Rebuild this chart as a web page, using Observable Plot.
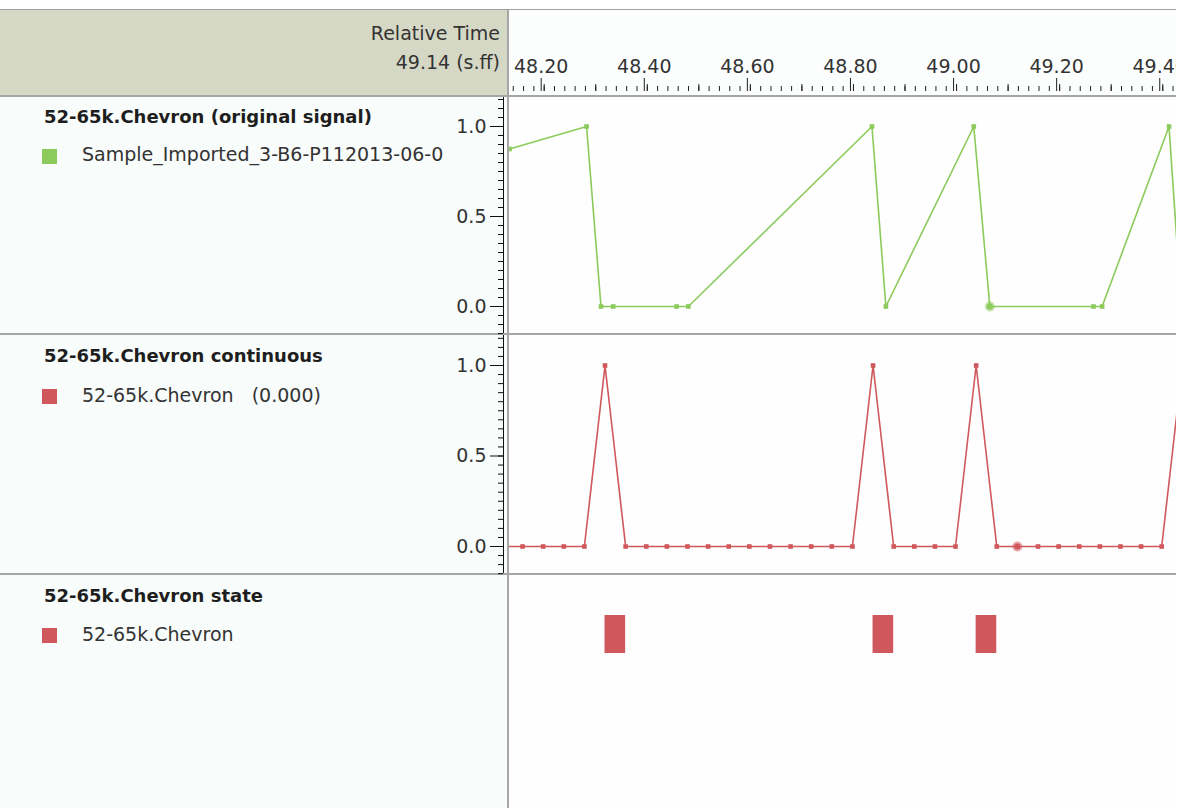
<!DOCTYPE html>
<html>
<head>
<meta charset="utf-8">
<script src="https://cdn.jsdelivr.net/npm/d3@7"></script>
<script src="https://cdn.jsdelivr.net/npm/@observablehq/plot@0.6"></script>
<style>
  html, body { margin: 0; padding: 0; background: #ffffff; }
  body { width: 1186px; height: 808px; position: relative; overflow: hidden; font-family: "DejaVu Sans", sans-serif; }
  .abs { position: absolute; }
  .title { font-weight: bold; font-size: 18px; line-height: 22px; color: #1e1e1e; white-space: pre; }
  .leg { font-size: 19px; line-height: 23px; color: #333; white-space: pre; }
  .hdr { font-size: 19px; line-height: 23px; color: #333; white-space: pre; text-align: right; }
</style>
</head>
<body>
<script>
// ---------- data ----------
const xDomain = [48.1327, 49.4267];          // visible time window (s)
const majorTicks = [48.2, 48.4, 48.6, 48.8, 49.0, 49.2, 49.4];
const yMajorTicks = [0, 0.5, 1];

// original signal (green)
const greenT = [48.1327, 48.2822, 48.3102, 48.3338, 48.4568, 48.4797, 48.8359, 48.8629, 49.0334, 49.0646, 49.2656, 49.2824, 49.4122, 49.4360];
const greenV = [0.875, 1, 0, 0, 0, 0, 1, 0, 1, 0, 0, 0, 1, 0];
const greenCursor = [{t: 49.0646, v: 0}];

// continuous (red)
const redT = [48.118, 48.158, 48.198, 48.238, 48.278, 48.318, 48.358, 48.398, 48.438, 48.478, 48.518, 48.558, 48.598, 48.638, 48.678, 48.718, 48.758, 48.798, 48.838, 48.878, 48.918, 48.958, 48.998, 49.038, 49.078, 49.118, 49.158, 49.198, 49.238, 49.278, 49.318, 49.358, 49.398, 49.438];
const redV = [0, 0, 0, 0, 0, 1, 0, 0, 0, 0, 0, 0, 0, 0, 0, 0, 0, 0, 1, 0, 0, 0, 0, 1, 0, 0, 0, 0, 0, 0, 0, 0, 0, 1];
const redCursor = [{t: 49.118, v: 0}];

// state (red bars)
const stateStart = [48.318, 48.838, 49.038];
const stateEnd   = [48.358, 48.878, 49.078];

const panelTitles = ["52-65k.Chevron (original signal)", "52-65k.Chevron continuous", "52-65k.Chevron state"];
const legendLabels = ["Sample_Imported_3-B6-P112013-06-0", "52-65k.Chevron   (0.000)", "52-65k.Chevron"];
const headerLabels = ["Relative Time", "49.14 (s.ff)"];

const GREEN = "#8cca5b";
const RED = "#d0585c";

// ---------- tables ----------
const green = greenT.map((t, i) => ({t, v: greenV[i]}));
const red = redT.map((t, i) => ({t, v: redV[i]}));
const states = stateStart.map((s, i) => ({s, e: stateEnd[i]}));

const inDomain = d => d >= xDomain[0] && d <= xDomain[1];
const xMinor = d3.range(48.14, 49.43, 0.02).map(d => +d.toFixed(2)).filter(inDomain);
const xMid = d3.range(48.1, 49.5, 0.1).map(d => +d.toFixed(1)).filter(inDomain);
const yMinor = d3.range(-0.15, 1.2, 0.05).map(d => +d.toFixed(2));

const W = 1176;
const xScale = {domain: xDomain, range: [509, W], axis: null};
const baseStyle = {fontFamily: "DejaVu Sans, sans-serif", fontSize: "19px", background: "transparent", color: "#333", overflow: "visible"};

// ---------- layout helpers ----------
function box(x, y, w, h, bg) {
  const d = document.createElement("div");
  d.className = "abs";
  Object.assign(d.style, {left: x + "px", top: y + "px", width: w + "px", height: h + "px", background: bg});
  document.body.appendChild(d);
  return d;
}
function text(cls, str, x, y, w) {
  const d = document.createElement("div");
  d.className = "abs " + cls;
  d.textContent = str;
  d.style.left = x + "px";
  d.style.top = y + "px";
  if (w) d.style.width = w + "px";
  document.body.appendChild(d);
  return d;
}
function place(svg, y) {
  svg.style.position = "absolute";
  svg.style.left = "0px";
  svg.style.top = y + "px";
  document.body.appendChild(svg);
}

// backgrounds
box(0, 10, 507, 85, "#d6d8c6");          // header left
box(509, 10, W - 509, 85, "#fcfefe");    // header right
box(0, 97, 507, 711, "#f8fcfa");         // left legend column
box(509, 97, W - 509, 711, "#fefefe");   // plot column
box(0, 9, W, 1, "#9e9e9e");              // top border
box(0, 95, W, 2, "#a6a6a6");             // header bottom border
box(0, 333, W, 2, "#a6a6a6");            // separator 1
box(0, 573, W, 2, "#a6a6a6");            // separator 2
box(507, 10, 2, 798, "#a6a6a6");         // vertical separator

// header texts
text("hdr", headerLabels[0], 0, 22, 500);
text("hdr", headerLabels[1], 0, 51, 500);

// ---------- header time axis ----------
const header = Plot.plot({
  width: W, height: 85, marginTop: 80, marginBottom: 5, marginLeft: 509, marginRight: 0,
  style: {...baseStyle, overflow: "hidden"},
  x: {domain: xDomain, range: [509, W]},
  marks: [
    Plot.axisX({anchor: "top", ticks: xMinor, tickSize: 5, tickFormat: () => "", label: null, stroke: "#222"}),
    Plot.axisX({anchor: "top", ticks: xMid, tickSize: 7, tickFormat: () => "", label: null, stroke: "#222"}),
    Plot.axisX({anchor: "top", ticks: majorTicks, tickSize: 13, tickPadding: 5, dx: -3, tickFormat: d3.format(".2f"), label: null, stroke: "#222", fill: "#333"})
  ]
});
place(header, 10);

// ---------- line panels ----------
function linePanel(data, color, cursor, h, yRange) {
  return Plot.plot({
    width: W, height: h, marginTop: 0, marginBottom: 0, marginLeft: 509, marginRight: 0,
    style: baseStyle,
    x: xScale,
    y: {domain: [0, 1], range: yRange},
    marks: [
      Plot.ruleX([xDomain[0]], {dx: -6, stroke: "#111", strokeWidth: 1}),
      Plot.axisY({ticks: yMinor, tickSize: 5, dx: -6, tickFormat: () => "", label: null, stroke: "#111"}),
      Plot.axisY({ticks: yMajorTicks, tickSize: 13, tickPadding: 4, dx: -6, tickFormat: d3.format(".1f"), label: null, stroke: "#111", fill: "#333"}),
      Plot.line(data, {x: "t", y: "v", stroke: color, strokeWidth: 1.6, clip: true}),
      Plot.dot(data, {x: "t", y: "v", symbol: "square", r: 2.6, fill: color, clip: true}),
      Plot.dot(cursor, {x: "t", y: "v", r: 5, fill: color, fillOpacity: 0.55, clip: true}),
      Plot.dot(cursor, {x: "t", y: "v", r: 3, fill: color, clip: true})
    ]
  });
}
place(linePanel(green, GREEN, greenCursor, 236, [209, 29]), 97);
place(linePanel(red, RED, redCursor, 238, [211, 30]), 335);

// ---------- state panel ----------
const statePanel = Plot.plot({
  width: W, height: 233, marginTop: 0, marginBottom: 0, marginLeft: 509, marginRight: 0,
  style: baseStyle,
  x: xScale,
  y: {domain: [0, 1], range: [78, 40], axis: null},
  marks: [
    Plot.rect(states, {x1: "s", x2: "e", y1: 0, y2: 1, fill: RED, clip: true})
  ]
});
place(statePanel, 575);

// ---------- left column labels ----------
const titleY = [106, 345, 585];
const legY = [143, 384, 623];
const swY = [149, 389, 628];
const colors = [GREEN, RED, RED];
panelTitles.forEach((t, i) => text("title", t, 44, titleY[i]));
legendLabels.forEach((t, i) => {
  text("leg", t, 82, legY[i]);
  box(42, swY[i], 15, 15, colors[i]);
});
</script>
</body>
</html>
